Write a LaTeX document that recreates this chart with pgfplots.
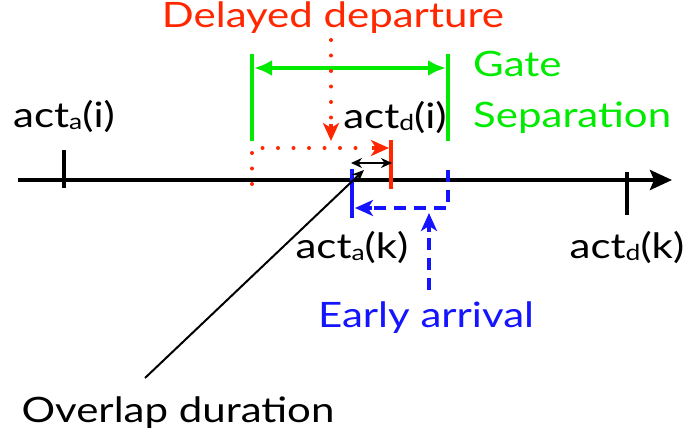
\documentclass[border=0pt]{standalone}
\usepackage{pgfplots}
\pgfplotsset{compat=1.18}
\usepackage{fontspec}
\setmainfont{Lato}[FakeStretch=1.2]
\usetikzlibrary{arrows.meta}
\definecolor{dred}{RGB}{255,38,0}
\definecolor{dgreen}{RGB}{0,235,0}
\definecolor{dblue}{RGB}{20,20,255}
\newcommand{\sub}[1]{\raisebox{-2pt}{\fontsize{22}{22}\selectfont #1}}
\tikzset{lbl/.style={font=\fontsize{35}{40}\selectfont, inner sep=0pt}}
\begin{document}
\begin{tikzpicture}
\begin{axis}[
  width=688pt, height=444pt, scale only axis,
  xmin=0, xmax=688, ymin=0, ymax=444, y dir=reverse,
  hide axis, clip=false,
]
\path (rel axis cs:0,0) rectangle (rel axis cs:1,1);
% time line
\addplot[black, line width=4pt, -{Stealth[length=22pt,width=20pt,inset=4pt]}] coordinates {(18,180) (672,180)};
\addplot[black, line width=4pt] coordinates {(64,150) (64,188)};
\addplot[black, line width=4pt] coordinates {(627,172) (627,215)};
% gate separation
\addplot[dgreen, line width=4pt] coordinates {(252,54) (252,141)};
\addplot[dgreen, line width=4pt] coordinates {(448,54) (448,141)};
\addplot[dgreen, line width=4pt, {Latex[length=18pt,width=16pt]}-{Latex[length=18pt,width=16pt]}] coordinates {(254,68) (446,68)};
% delayed departure
\addplot[dred, line width=4pt, line cap=round, dash pattern=on 0pt off 15.5pt] coordinates {(252,184) (252,148) (370,148)};
\addplot[dred, line width=4pt, -{Stealth[length=18pt,width=16pt,inset=5pt]}] coordinates {(372,148) (389,148)};
\addplot[dred, line width=4pt, line cap=round, dash pattern=on 0pt off 15.5pt] coordinates {(331,40) (331,125)};
\addplot[dred, line width=4pt, -{Stealth[length=18pt,width=16pt,inset=5pt]}] coordinates {(331,124) (331,141)};
\addplot[dred, line width=4pt] coordinates {(391,140) (391,189)};
% early arrival
\addplot[dblue, line width=4pt] coordinates {(352,169) (352,218)};
\addplot[dblue, line width=4pt, dash pattern=on 12pt off 8pt] coordinates {(448,170) (448,208) (372,208)};
\addplot[dblue, line width=4pt, -{Stealth[length=18pt,width=16pt,inset=5pt]}] coordinates {(372,208) (355,208)};
\addplot[dblue, line width=4pt, dash pattern=on 12pt off 8pt] coordinates {(429,290) (429,230)};
\addplot[dblue, line width=4pt, -{Stealth[length=18pt,width=16pt,inset=5pt]}] coordinates {(429,232) (429,213)};
% overlap
\addplot[black, line width=2pt, {Stealth[length=11pt,width=10pt]}-{Stealth[length=11pt,width=10pt]}] coordinates {(351,163) (392,163)};
\addplot[black, line width=2pt, -{Stealth[length=12pt,width=10pt]}] coordinates {(145,378) (364,170)};
% labels
\node[lbl, anchor=base] at (axis cs:64,127) {act\sub{a}(i)};
\node[lbl, anchor=base] at (axis cs:395,128) {act\sub{d}(i)};
\node[lbl, anchor=base] at (axis cs:352,258) {act\sub{a}(k)};
\node[lbl, anchor=base] at (axis cs:627,258) {act\sub{d}(k)};
\node[lbl, anchor=base west, text=dgreen] at (axis cs:473,77) {Gate};
\node[lbl, anchor=base west, text=dgreen] at (axis cs:473,127) {Separation};
\node[lbl, anchor=base, text=dred] at (axis cs:333,28) {Delayed departure};
\node[lbl, anchor=base, text=dblue] at (axis cs:426,327) {Early arrival};
\node[lbl, anchor=base] at (axis cs:178,422) {Overlap duration};
\end{axis}
\end{tikzpicture}
\end{document}
